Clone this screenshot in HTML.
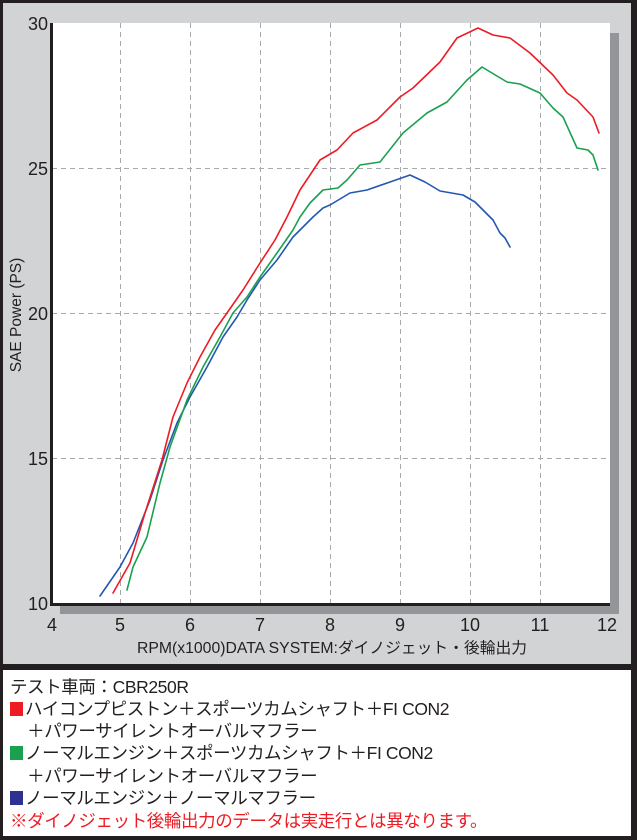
<!DOCTYPE html>
<html><head><meta charset="utf-8"><style>
html,body{margin:0;padding:0;background:#fff;}
body{width:637px;height:840px;position:relative;overflow:hidden;font-family:"Liberation Sans","Noto Sans CJK JP",sans-serif;}
.leg{position:absolute;left:10px;font-size:17.5px;color:#231f20;white-space:nowrap;line-height:22px;letter-spacing:-0.4px;}
.sq{display:inline-block;width:13px;height:14px;margin-right:2px;vertical-align:-1px;}
</style></head><body>
<svg width="637" height="840" style="position:absolute;left:0;top:0" xmlns="http://www.w3.org/2000/svg">
<rect x="0" y="0" width="637" height="840" fill="#231f20"/>
<rect x="3" y="3" width="628" height="661" fill="#d2d3d5"/>
<rect x="3" y="670" width="628" height="166" fill="#fff"/>
<rect x="60" y="33" width="559" height="581" fill="#939598"/>
<rect x="52" y="23" width="558" height="580" fill="#fff"/>
<g stroke="#a7a9ac" stroke-width="1" stroke-dasharray="5,4" fill="none">
<line x1="120.5" y1="23" x2="120.5" y2="603"/><line x1="190.5" y1="23" x2="190.5" y2="603"/>
<line x1="260.5" y1="23" x2="260.5" y2="603"/><line x1="330.5" y1="23" x2="330.5" y2="603"/>
<line x1="400.5" y1="23" x2="400.5" y2="603"/><line x1="470.5" y1="23" x2="470.5" y2="603"/>
<line x1="540.5" y1="23" x2="540.5" y2="603"/>
<line x1="52" y1="168.5" x2="610" y2="168.5"/><line x1="52" y1="313.5" x2="610" y2="313.5"/>
<line x1="52" y1="458.5" x2="610" y2="458.5"/>
</g>
<line x1="51.5" y1="23" x2="51.5" y2="606" stroke="#231f20" stroke-width="3"/>
<line x1="50" y1="604.5" x2="610" y2="604.5" stroke="#231f20" stroke-width="3"/>
<g fill="none" stroke-width="1.6" stroke-linejoin="round" stroke-linecap="round">
<polyline stroke="#2458b0" points="100,596 120,567 133,543 150,500 163,460 177,423 190,397 207,367 223,337 237,317 247,300 260,280 277,260 293,237 300,230 313,217 323,208 330,205 350,193 367,190 390,182 410,175 425,182 440,191 463,195 475,202 483,210 493,220 500,233 505,238 510,247"/>
<polyline stroke="#19a14d" points="127,590 133,567 147,537 160,483 170,447 187,400 203,367 220,337 233,313 247,297 260,277 277,253 293,230 300,217 310,203 323,190 338,188 347,180 360,165 380,162 403,133 427,113 447,102 467,80 482,67 507,82 520,84 540,93 553,108 563,117 577,148 588,150 593,155 598,170"/>
<polyline stroke="#ed1c24" points="113,593 130,563 145,513 162,460 173,417 187,383 200,357 215,330 227,313 243,290 260,263 275,240 287,217 300,190 320,160 337,150 353,133 377,120 400,97 413,88 440,62 457,38 478,28 493,35 510,38 530,53 553,75 567,93 577,100 593,117 599,133"/>
</g>
<g font-family="Liberation Sans, sans-serif" font-size="18" fill="#231f20">
<text x="48" y="30" text-anchor="end">30</text>
<text x="48" y="175" text-anchor="end">25</text>
<text x="48" y="320" text-anchor="end">20</text>
<text x="48" y="465" text-anchor="end">15</text>
<text x="48" y="610" text-anchor="end">10</text>
<g text-anchor="middle">
<text x="52" y="631">4</text><text x="120" y="631">5</text><text x="190" y="631">6</text>
<text x="260" y="631">7</text><text x="330" y="631">8</text><text x="400" y="631">9</text>
<text x="470" y="631">10</text><text x="540" y="631">11</text><text x="607" y="631">12</text>
</g>
</g>
<text x="332" y="653" text-anchor="middle" font-size="15.5" fill="#231f20" font-family="Liberation Sans, Noto Sans CJK JP, sans-serif" textLength="390" lengthAdjust="spacingAndGlyphs">RPM(x1000)DATA SYSTEM:ダイノジェット・後輪出力</text>
<text transform="translate(21,315) rotate(-90)" text-anchor="middle" font-size="15.5" fill="#231f20" font-family="Liberation Sans, sans-serif">SAE Power (PS)</text>
</svg>
<div class="leg" style="top:676px">テスト車両：CBR250R</div>
<div class="leg" style="top:698px"><span class="sq" style="background:#ed1c24"></span>ハイコンプピストン＋スポーツカムシャフト＋FI CON2</div>
<div class="leg" style="top:720px">　＋パワーサイレントオーバルマフラー</div>
<div class="leg" style="top:742px"><span class="sq" style="background:#19a14d"></span>ノーマルエンジン＋スポーツカムシャフト＋FI CON2</div>
<div class="leg" style="top:765px">　＋パワーサイレントオーバルマフラー</div>
<div class="leg" style="top:787px"><span class="sq" style="background:#2e3192"></span>ノーマルエンジン＋ノーマルマフラー</div>
<div class="leg" style="top:810px;color:#ed1c24">※ダイノジェット後輪出力のデータは実走行とは異なります。</div>
</body></html>
